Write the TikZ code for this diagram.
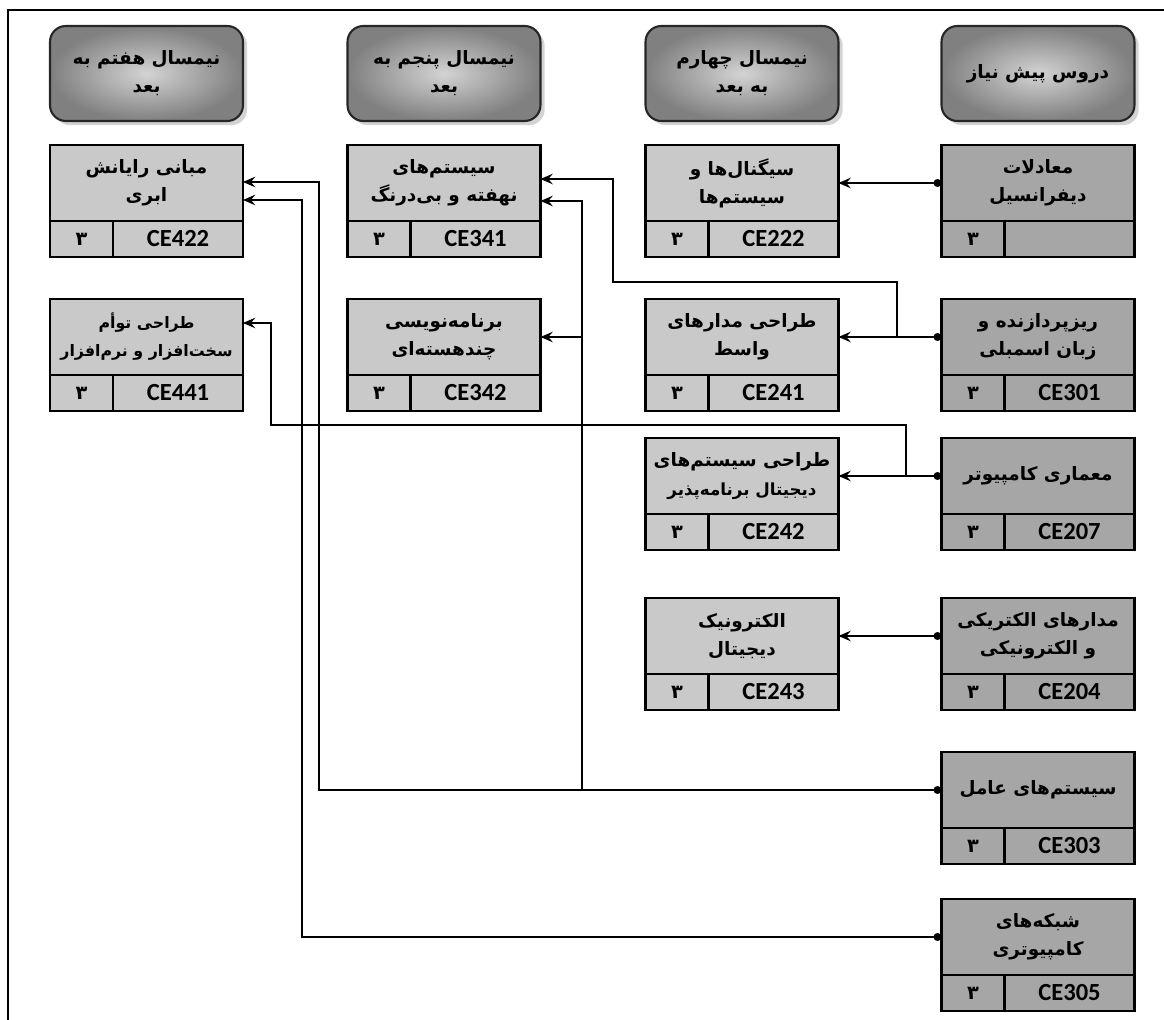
\documentclass[tikz,border=0pt]{standalone}
\usepackage{fontspec}
\setmainfont{Carlito}
\newfontfamily\farsi[Script=Arabic]{DejaVu Sans}
\TeXXeTstate=1
\usepackage{xcolor}
\usepackage{tikz}
\usetikzlibrary{shadows}
\usetikzlibrary{positioning}
\usetikzlibrary{arrows,shapes}
\usetikzlibrary{arrows.meta}
\usetikzlibrary{shadings}
\usetikzlibrary{calc}

\newcommand{\fa}[1]{{\farsi\bfseries\beginR #1\endR}}

\definecolor{boxgray}{gray}{0.79}
\definecolor{pregray}{gray}{0.65}

\tikzstyle{semhead}=[rectangle, rounded corners=9pt, draw=black!85, line width=1.2pt, inner color=black!17, outer color=black!50, drop shadow={opacity=0.35}, minimum width=3.86cm, minimum height=1.9cm, align=center, font=\fontsize{10.5}{16}\selectfont]
\tikzstyle{crstitle}=[rectangle, draw, line width=1.6pt, outer sep=0pt, minimum width=3.86cm, minimum height=1.52cm, inner sep=1pt, align=center, font=\fontsize{10.5}{16}\selectfont]
\tikzstyle{crscredit}=[rectangle, draw, line width=1.6pt, outer sep=0pt, minimum width=1.26cm, minimum height=0.72cm, inner sep=0pt, font=\fontsize{11}{12}\selectfont]
\tikzstyle{codecell}=[rectangle, draw, line width=1.6pt, outer sep=0pt, minimum width=2.6cm, minimum height=0.72cm, inner sep=0pt, font=\fontsize{14}{15}\selectfont\bfseries]
\tikzstyle{edge} = [draw, line width=0.8pt, -{Stealth[length=7pt,width=6pt,inset=2.5pt]}]
\tikzstyle{srcedge} = [draw, line width=0.8pt, {Circle[length=4.5pt]}-{Stealth[length=7pt,width=6pt,inset=2.5pt]}]

\begin{document}
\begin{tikzpicture}[x=0.02cm, y=-0.02cm]
  \useasboundingbox (0,0) rectangle (1164,1020);

  \draw[line width=1.4pt] (8,1020) -- (8,10) -- (1164,10);

  % semester headers
  \foreach \x/\name/\txt in {146.5/h7/{\fa{نیمسال هفتم به}\\\fa{بعد}}, 444/h5/{\fa{نیمسال پنجم به}\\\fa{بعد}},
                             742/h4/{\fa{نیمسال چهارم}\\\fa{به بعد}}, 1038/hpre/{\fa{دروس پیش نیاز}}}
          \node[semhead] (\name) at (\x,73.5) {\txt};

  % prerequisite column
  \foreach \x/\y/\id/\cid/\txt in {1038/183/diff/{}/{\fa{معادلات}\\\fa{دیفرانسیل}},
                                   1038/337/301/CE301/{\fa{ریزپردازنده و}\\\fa{زبان اسمبلی}},
                                   1038/476/207/CE207/{\fa{معماری کامپیوتر}},
                                   1038/636/204/CE204/{\fa{مدارهای الکتریکی}\\\fa{و الکترونیکی}},
                                   1038/790/303/CE303/{\fa{سیستم^^^^200cهای عامل}},
                                   1038/937/305/CE305/{\fa{شبکه^^^^200cهای}\\\fa{کامپیوتری}}}
  {
          \node[crstitle, fill=pregray] (t\id) at (\x,\y) {\txt};
          \node[crscredit, fill=pregray, below right=0pt of t\id.south west] (n\id) {\fa{۳}};
          \node[codecell, fill=pregray, below left=0pt of t\id.south east] (c\id) {\cid};
  }

  % later courses
  \foreach \x/\y/\id/\cid/\txt in {742/183/222/CE222/{\fa{سیگنال^^^^200cها و}\\\fa{سیستم^^^^200cها}},
                                   742/337/241/CE241/{\fa{طراحی مدارهای}\\\fa{واسط}},
                                   742/476/242/CE242/{\fa{طراحی سیستم^^^^200cهای}\\{\fontsize{9.5}{16}\selectfont\fa{دیجیتال برنامه^^^^200cپذیر}}},
                                   742/636/243/CE243/{\fa{الکترونیک}\\\fa{دیجیتال}},
                                   444/183/341/CE341/{\fa{سیستم^^^^200cهای}\\\fa{نهفته و بی^^^^200cدرنگ}},
                                   444/337/342/CE342/{\fa{برنامه^^^^200cنویسی}\\\fa{چندهسته^^^^200cای}},
                                   146.5/183/422/CE422/{\fa{مبانی رایانش}\\\fa{ابری}},
                                   146.5/337/441/CE441/{{\fontsize{9}{15}\selectfont\fa{طراحی توأم}}\\{\fontsize{9}{15}\selectfont\fa{سخت^^^^200cافزار و نرم^^^^200cافزار}}}}
  {
          \node[crstitle, fill=boxgray] (t\id) at (\x,\y) {\txt};
          \node[crscredit, fill=boxgray, below right=0pt of t\id.south west] (n\id) {\fa{۳}};
          \node[codecell, fill=boxgray, below left=0pt of t\id.south east] (c\id) {\cid};
  }

  % straight links
  \foreach \source/\dest in {tdiff/t222, t301/t241, t207/t242, t204/t243}
         \path[srcedge] (\source.west) -- (\dest.east);

  % routed links
  \coordinate (j301) at (897,337);
  \coordinate (k301) at (613,282);
  \path[edge] (j301) |- (k301) |- ([yshift=0.08cm]t341.east);

  \coordinate (j207) at (906,476);
  \coordinate (k207) at (271,425);
  \path[edge] (j207) |- (k207) |- ([yshift=0.28cm]t441.east);

  \coordinate (k303) at (319,790);
  \coordinate (j303) at (582,790);
  \path[srcedge] (t303.west) -- (k303) |- ([yshift=0.02cm]t422.east);
  \path[edge] (j303) |- ([yshift=-0.36cm]t341.east);
  \path[edge] (t342.east -| j303) -- (t342.east);

  \coordinate (k305) at (302,937);
  \path[srcedge] (t305.west) -- (k305) |- ([yshift=-0.34cm]t422.east);

\end{tikzpicture}
\end{document}
